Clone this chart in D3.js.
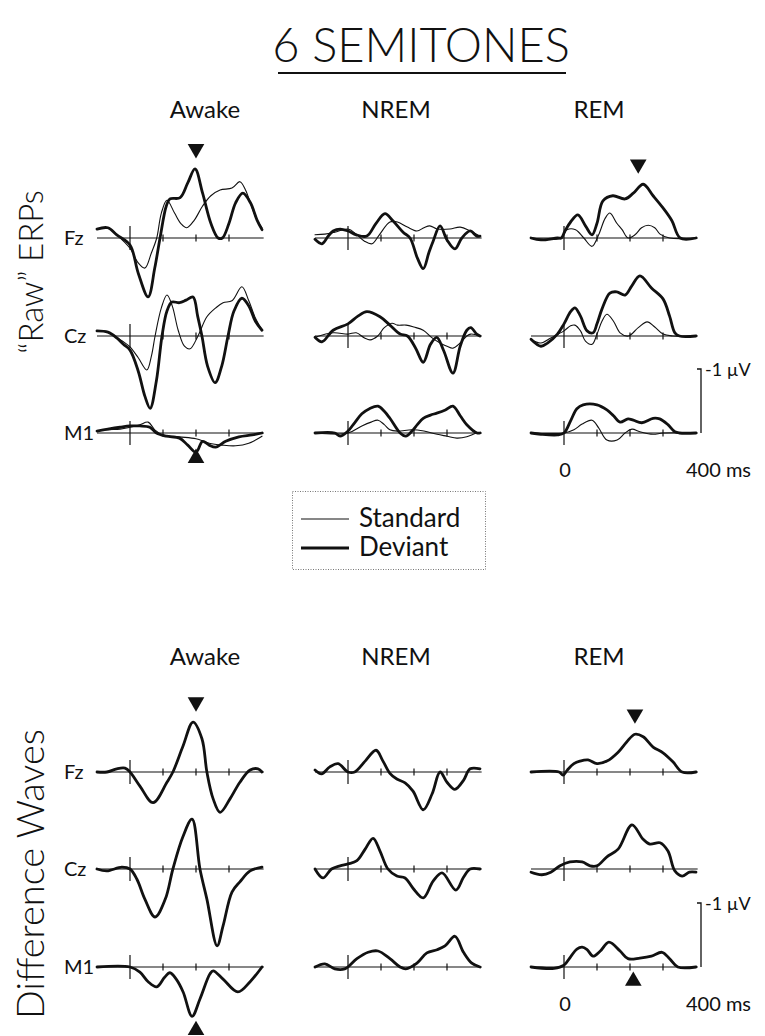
<!DOCTYPE html>
<html>
<head>
<meta charset="utf-8">
<script src="https://d3js.org/d3.v7.min.js"></script>
<style>
  body { margin: 0; background: #fff; }
  text { font-family: Lato, "Open Sans", sans-serif; font-weight: 400; fill: #111; }
  text.light { font-weight: 300; }
</style>
</head>
<body>
<svg id="fig" width="765" height="1036"></svg>
<script>
// ---- data (time in ms, amplitude in µV, negative plotted up) ----
const conditions = ["Awake", "NREM", "REM"];
const electrodes = ["Fz", "Cz", "M1"];
const timeTicks = [100, 200, 300];

// "Raw" ERPs: standard (thin) and deviant (thick)
const awakeFzStd = [[-100,-0.14],[-67,-0.16],[-40,-0.05],[0,0.16],[25,0.39],[45,0.47],[65,0.23],[81,0],[95,-0.39],[112,-0.59],[135,-0.39],[155,-0.22],[172,-0.16],[195,-0.28],[220,-0.50],[245,-0.66],[273,-0.75],[309,-0.78],[333,-0.88],[350,-0.75],[370,-0.47],[385,-0.28],[400,-0.16]];
const awakeFzDev = [[-100,-0.14],[-67,-0.16],[-40,-0.05],[0,0.11],[25,0.55],[55,0.92],[75,0.47],[91,0],[110,-0.50],[121,-0.61],[152,-0.63],[175,-0.86],[197,-1.08],[220,-0.70],[245,-0.23],[267,0],[280,0],[300,-0.23],[320,-0.55],[342,-0.70],[365,-0.55],[385,-0.28],[400,-0.13]];
const awakeCzStd = [[-100,-0.08],[-67,-0.06],[-40,0.03],[-20,0.09],[0,0.17],[25,0.34],[51,0.53],[65,0.31],[76,0],[95,-0.44],[112,-0.64],[128,-0.47],[146,-0.09],[165,0.16],[182,0.20],[206,0],[233,-0.30],[260,-0.44],[282,-0.52],[309,-0.55],[339,-0.77],[360,-0.55],[380,-0.28],[400,-0.09]];
const awakeCzDev = [[-100,-0.08],[-67,-0.06],[-40,0.03],[-20,0.13],[0,0.22],[25,0.55],[45,0.94],[61,1.13],[80,0.70],[97,0],[112,-0.39],[127,-0.53],[150,-0.52],[170,-0.56],[191,-0.61],[205,-0.31],[218,0],[235,0.47],[258,0.73],[278,0.47],[297,0],[315,-0.39],[339,-0.59],[360,-0.47],[380,-0.23],[400,-0.09]];
const awakeM1Std = [[-100,-0.03],[-67,-0.05],[-30,-0.06],[0,-0.09],[30,-0.13],[55,-0.17],[75,-0.05],[100,0.03],[150,0.06],[200,0.09],[240,0.16],[280,0.19],[320,0.20],[360,0.16],[400,0.05]];
const awakeM1Dev = [[-100,-0.03],[-67,-0.06],[-30,-0.09],[0,-0.11],[30,-0.11],[60,-0.09],[80,0],[110,0.05],[150,0.08],[175,0.19],[200,0.30],[220,0.13],[240,0.19],[260,0.22],[290,0.13],[330,0.06],[370,0.03],[400,0]];

const nremFzStd = [[-100,-0.05],[-70,-0.06],[-40,-0.09],[0,-0.14],[25,-0.06],[50,0.05],[73,0.09],[95,-0.05],[127,-0.25],[150,-0.25],[180,-0.17],[209,-0.11],[230,-0.16],[248,-0.19],[270,-0.14],[309,-0.14],[340,-0.17],[370,-0.11],[400,-0.03]];
const nremFzDev = [[-100,0.02],[-79,0.09],[-60,-0.03],[-45,-0.11],[-24,-0.14],[0,-0.11],[25,-0.05],[57,-0.03],[85,-0.23],[112,-0.38],[136,-0.27],[167,-0.09],[188,0],[210,0.31],[228,0.48],[245,0.23],[258,0.05],[279,-0.19],[300,0.03],[324,0.17],[345,0],[370,-0.11],[390,-0.03],[400,-0.03]];
const nremCzStd = [[-100,0.02],[-45,-0.05],[0,-0.03],[25,-0.05],[50,0.03],[67,0.06],[90,0],[110,-0.13],[133,-0.20],[150,-0.17],[176,-0.17],[200,-0.14],[228,-0.09],[255,0.03],[279,0.11],[300,0.16],[318,0.19],[340,0.11],[360,0],[372,-0.03],[400,0]];
const nremCzDev = [[-100,0.02],[-79,0.09],[-45,-0.09],[0,-0.19],[30,-0.31],[57,-0.38],[97,-0.30],[127,-0.17],[158,-0.03],[180,0],[205,0.19],[228,0.41],[250,0.13],[269,0.02],[290,0.23],[318,0.58],[340,0.16],[360,-0.09],[372,-0.13],[390,-0.03],[400,0]];
const nremM1Std = [[-100,0],[0,0],[42,-0.11],[70,-0.17],[91,-0.20],[110,-0.13],[127,-0.05],[150,-0.03],[194,-0.05],[230,-0.03],[270,0.02],[300,0.05],[330,0.08],[360,0.06],[390,0],[400,0]];
const nremM1Dev = [[-100,0],[-40,0],[-24,0.05],[0,-0.03],[20,-0.16],[42,-0.30],[65,-0.38],[91,-0.42],[110,-0.34],[127,-0.23],[158,0],[175,0.05],[194,-0.03],[210,-0.13],[228,-0.23],[250,-0.28],[269,-0.31],[295,-0.36],[318,-0.42],[340,-0.27],[360,-0.13],[391,0],[400,0]];

const remFzStd = [[-100,0],[-10,0],[9,-0.13],[35,-0.13],[60,0],[85,0.13],[105,-0.05],[125,-0.31],[139,-0.39],[160,-0.23],[176,-0.13],[194,0],[215,-0.05],[235,-0.16],[255,-0.20],[275,-0.16],[291,-0.06],[320,0],[400,0]];
const remFzDev = [[-100,0],[-70,0.03],[-20,0],[-8,0],[3,-0.11],[20,-0.25],[42,-0.36],[65,-0.19],[85,-0.05],[100,-0.23],[118,-0.58],[148,-0.66],[185,-0.61],[210,-0.70],[240,-0.84],[270,-0.66],[300,-0.47],[327,-0.27],[352,0],[400,0]];
const remCzStd = [[-100,0.05],[-70,0.11],[-40,0.03],[0,-0.08],[20,-0.16],[33,-0.17],[50,-0.08],[65,0.08],[85,0.13],[100,-0.03],[115,-0.23],[130,-0.34],[150,-0.23],[170,-0.05],[195,0],[225,-0.13],[252,-0.22],[275,-0.14],[300,-0.03],[330,0],[400,0]];
const remCzDev = [[-100,0.05],[-70,0.16],[-50,0.11],[-20,-0.03],[0,-0.19],[20,-0.38],[33,-0.44],[50,-0.31],[70,-0.08],[88,-0.05],[100,-0.19],[115,-0.42],[139,-0.67],[160,-0.69],[185,-0.64],[205,-0.78],[230,-0.94],[265,-0.75],[300,-0.58],[320,-0.31],[336,-0.05],[350,0],[400,0]];
const remM1Std = [[-100,0],[0,0],[30,-0.05],[55,-0.14],[85,-0.20],[105,-0.08],[130,0.11],[161,0.11],[185,0],[206,-0.06],[230,-0.02],[270,0.02],[300,0],[400,0]];
const remM1Dev = [[-100,0],[-70,0.02],[-20,0.03],[0,0],[20,-0.19],[39,-0.38],[58,-0.44],[100,-0.44],[130,-0.36],[150,-0.27],[170,-0.17],[194,-0.22],[210,-0.20],[236,-0.16],[270,-0.23],[290,-0.22],[315,-0.13],[336,-0.02],[350,0],[400,0]];

// Difference waves (deviant minus standard)
const awakeFzDiff = [[-100,0],[-70,0],[-40,-0.05],[-15,-0.06],[0,0],[30,0.22],[70,0.48],[112,0.16],[130,0],[161,-0.41],[191,-0.78],[218,-0.52],[233,0],[252,0.42],[273,0.63],[303,0.42],[333,0.16],[364,-0.03],[388,-0.05],[400,0]];
const awakeCzDiff = [[-100,0],[-70,0.03],[-25,-0.03],[0,0],[21,0.16],[45,0.47],[76,0.75],[107,0.47],[130,0],[160,-0.50],[188,-0.78],[212,0],[233,0.47],[264,1.20],[282,0.89],[309,0.36],[333,0.20],[364,0.03],[400,-0.03]];
const awakeM1Diff = [[-100,0],[0,0],[30,0.08],[55,0.23],[81,0.31],[105,0.16],[121,0.09],[140,0.19],[161,0.39],[188,0.77],[212,0.50],[242,0.11],[252,0.06],[282,0.19],[327,0.39],[364,0.23],[400,0]];
const nremFzDiff = [[-100,-0.03],[-80,0.03],[-55,-0.08],[-30,-0.13],[0,0],[20,0],[52,-0.17],[85,-0.34],[106,-0.17],[127,0.02],[148,0.11],[173,0.17],[197,0.30],[228,0.59],[255,0.34],[279,0],[300,0.16],[324,0.27],[350,0.13],[370,-0.05],[400,-0.05]];
const nremCzDiff = [[-100,0],[-76,0.14],[-50,0],[-24,-0.05],[0,-0.08],[27,-0.13],[52,-0.31],[76,-0.48],[97,-0.28],[121,0],[148,0.11],[173,0.14],[197,0.30],[228,0.45],[258,0.19],[285,0.06],[327,0.33],[350,0.13],[370,0],[400,0]];
const nremM1Diff = [[-100,0],[-70,-0.05],[-40,0.03],[-10,0.03],[27,-0.13],[61,-0.23],[91,-0.25],[127,-0.13],[158,0],[175,0.03],[209,-0.06],[239,-0.22],[270,-0.27],[294,-0.33],[324,-0.48],[350,-0.23],[375,-0.06],[400,0]];
const remFzDiff = [[-100,0],[-15,0],[-3,0.05],[10,-0.03],[30,-0.13],[48,-0.17],[73,-0.19],[100,-0.13],[130,-0.17],[164,-0.31],[190,-0.47],[215,-0.59],[240,-0.55],[270,-0.39],[300,-0.30],[330,-0.16],[358,0],[400,0]];
const remCzDiff = [[-100,0.05],[-67,0.09],[-40,0.05],[-12,-0.05],[18,-0.11],[55,-0.11],[79,-0.05],[100,-0.05],[130,-0.19],[164,-0.31],[206,-0.69],[239,-0.47],[260,-0.39],[291,-0.41],[315,-0.28],[336,0.03],[358,0.11],[380,0.05],[400,0.05]];
const remM1Diff = [[-100,0],[-30,0.02],[0,-0.03],[20,-0.16],[39,-0.28],[55,-0.31],[70,-0.27],[88,-0.17],[110,-0.25],[136,-0.39],[170,-0.25],[194,-0.13],[230,-0.14],[265,-0.17],[297,-0.23],[320,-0.13],[345,0],[400,0]];

// peak markers: condition, electrode, latency (ms), direction
const rawMarkers = [["Awake","Fz",200,"down"],["REM","Fz",225,"down"],["Awake","M1",200,"up"]];
const diffMarkers = [["Awake","Fz",200,"down"],["REM","Fz",215,"down"],["Awake","M1",200,"up"],["REM","M1",210,"up"]];

const rawTraces = {
  Awake: { Fz: [awakeFzStd, awakeFzDev], Cz: [awakeCzStd, awakeCzDev], M1: [awakeM1Std, awakeM1Dev] },
  NREM:  { Fz: [nremFzStd, nremFzDev],   Cz: [nremCzStd, nremCzDev],   M1: [nremM1Std, nremM1Dev] },
  REM:   { Fz: [remFzStd, remFzDev],     Cz: [remCzStd, remCzDev],     M1: [remM1Std, remM1Dev] }
};
const diffTraces = {
  Awake: { Fz: awakeFzDiff, Cz: awakeCzDiff, M1: awakeM1Diff },
  NREM:  { Fz: nremFzDiff,  Cz: nremCzDiff,  M1: nremM1Diff },
  REM:   { Fz: remFzDiff,   Cz: remCzDiff,   M1: remM1Diff }
};

// ---- layout ----
const colZero = [130, 348, 564];
const headerX = [205, 396, 599];
const msPx = 0.33;
const uvPx = 64;
const rawRowY = [238, 336, 433];
const diffRowY = [772, 869, 967];

const svg = d3.select("#fig");

const xScale = c => d3.scaleLinear().domain([-100, 400]).range([colZero[c] - 100 * msPx, colZero[c] + 400 * msPx]);
const yScale = y0 => d3.scaleLinear().domain([-1, 0]).range([y0 - uvPx, y0]);

const line = (x, y) => d3.line().x(d => x(d[0])).y(d => y(d[1])).curve(d3.curveCatmullRom.alpha(0.5));

// title
svg.append("text").attr("class", "light").attr("x", 421).attr("y", 62).attr("text-anchor", "middle")
  .style("font-size", "47px").text("6 SEMITONES");
svg.append("line").attr("x1", 278).attr("x2", 566).attr("y1", 73).attr("y2", 73)
  .attr("stroke", "#111").attr("stroke-width", 2);

function drawPanel(rowY, headerY, traces, markers, isDiff) {
  conditions.forEach((cond, c) => {
    const x = xScale(c);
    svg.append("text").attr("x", headerX[c]).attr("y", headerY)
      .attr("text-anchor", "middle").style("font-size", "24px").text(cond);

    electrodes.forEach((el, r) => {
      const y = yScale(rowY[r]);
      const g = svg.append("g");
      // baseline, zero line, ticks
      g.append("line").attr("x1", x(-100)).attr("x2", x(405)).attr("y1", y(0)).attr("y2", y(0))
        .attr("stroke", "#111").attr("stroke-width", 1.2);
      g.append("line").attr("x1", x(0)).attr("x2", x(0)).attr("y1", y(0) - 12).attr("y2", y(0) + 12)
        .attr("stroke", "#111").attr("stroke-width", 1.2);
      g.selectAll(".tick").data(timeTicks).join("line")
        .attr("x1", d => x(d)).attr("x2", d => x(d)).attr("y1", y(0) - 3.5).attr("y2", y(0) + 3.5)
        .attr("stroke", "#111").attr("stroke-width", 1.2);

      if (c === 0) {
        g.append("text").attr("x", 64).attr("y", y(0) + 7).style("font-size", "20px").text(el);
      }

      const set = isDiff ? [traces[cond][el]] : traces[cond][el];
      set.forEach((tr, i) => {
        const thick = isDiff || i === 1;
        g.append("path").attr("d", line(x, y)(tr)).attr("fill", "none")
          .attr("stroke", "#111").attr("stroke-width", thick ? 2.8 : 1.1)
          .attr("stroke-linejoin", "round").attr("stroke-linecap", "round");
      });
    });
  });

  // peak markers
  markers.forEach(([cond, el, t, dir]) => {
    const c = conditions.indexOf(cond), r = electrodes.indexOf(el);
    const x = xScale(c), y = yScale(rowY[r]);
    const set = isDiff ? [traces[cond][el]] : traces[cond][el];
    const vals = set.flatMap(tr => tr.filter(d => Math.abs(d[0] - t) <= 30).map(d => d[1]));
    let cy;
    if (dir === "down") cy = y(Math.min(0, d3.min(vals))) - 20;
    else cy = y(Math.max(0, d3.max(vals))) + (isDiff ? 14 : 6);
    svg.append("path").attr("d", d3.symbol(d3.symbolTriangle, 120)())
      .attr("transform", `translate(${x(t)},${cy}) rotate(${dir === "down" ? 180 : 0})`)
      .attr("fill", "#111");
  });

  // calibration bar
  const x = xScale(2), y = yScale(rowY[2]);
  const bx = x(400) + 5;
  svg.append("path").attr("d", `M${bx - 4},${y(-1)} L${bx},${y(-1)} L${bx},${y(0)}`)
    .attr("fill", "none").attr("stroke", "#111").attr("stroke-width", 1.3);
  svg.append("text").attr("x", bx + 4).attr("y", y(-1) + 7).style("font-size", "18px").text("-1 \u00b5V");
  svg.append("text").attr("x", x(0) + 1).attr("y", y(0) + 44).attr("text-anchor", "middle")
    .style("font-size", "20px").text("0");
  svg.append("text").attr("x", x(400) - 10).attr("y", y(0) + 44)
    .style("font-size", "20px").text("400 ms");
}

drawPanel(rawRowY, 118, rawTraces, rawMarkers, false);
drawPanel(diffRowY, 665, diffTraces, diffMarkers, true);

// side labels
svg.append("text").attr("class", "light").attr("transform", "translate(43,272) rotate(-90)").attr("text-anchor", "middle")
  .style("font-size", "33px").text("\u201cRaw\u201d ERPs");
svg.append("text").attr("class", "light").attr("transform", "translate(44,874) rotate(-90)").attr("text-anchor", "middle")
  .style("font-size", "38px").text("Difference Waves");

// legend
const legend = svg.append("g");
legend.append("rect").attr("x", 292.5).attr("y", 491.5).attr("width", 193).attr("height", 78)
  .attr("fill", "none").attr("stroke", "#777").attr("stroke-width", 1).attr("stroke-dasharray", "1,1.5");
const legendItems = [["Standard", 1.1], ["Deviant", 2.8]];
legend.selectAll(".item").data(legendItems).join("g")
  .attr("transform", (d, i) => `translate(0,${519 + i * 29})`)
  .each(function (d) {
    const g = d3.select(this);
    g.append("line").attr("x1", 301).attr("x2", 349).attr("stroke", "#111").attr("stroke-width", d[1]);
    g.append("text").attr("x", 359).attr("y", 8).style("font-size", "26px").text(d[0]);
  });
</script>
</body>
</html>
